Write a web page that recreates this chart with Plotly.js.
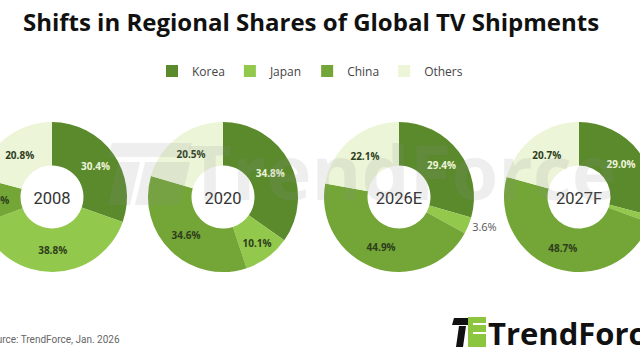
<!DOCTYPE html>
<html>
<head>
<meta charset="utf-8">
<script src="https://cdn.plot.ly/plotly-3.0.1.min.js"></script>
<style>
html,body{margin:0;padding:0;width:640px;height:360px;overflow:hidden;background:#fff;}
#chart{position:absolute;left:-100px;top:0;width:840px;height:360px;}
</style>
</head>
<body>
<div id="chart"></div>
<script>
// ---- data ----
const regions = ['Korea', 'Japan', 'China', 'Others'];
const years = ['2008', '2020', '2026E', '2027F'];
const korea  = [30.4, 34.8, 29.4, 29.0];
const japan  = [38.8, 10.1, 3.6, 1.6];
const china  = [10.0, 34.6, 44.9, 48.7];
const others = [20.8, 20.5, 22.1, 20.7];
const colors = ['#5a8a2c', '#92c84b', '#73a637', '#ecf5d7'];

// ---- layout helpers (positions, not data) ----
const W = 840, H = 360, OFFSET = 100;
const centersX = [52, 223, 399, 579];   // page px
const centerY = 197, R = 75;
const px = x => (x + OFFSET) / W;
const py = y => 1 - y / H;

const traces = years.map((yr, i) => {
  const vals = [korea[i], japan[i], china[i], others[i]];
  const cx = px(centersX[i]);
  const cy = py(centerY);
  return {
    type: 'pie',
    name: yr,
    labels: regions,
    values: vals,
    sort: false,
    direction: 'clockwise',
    rotation: 0,
    hole: 0.42,
    domain: {x: [cx - R / W, cx + R / W], y: [cy - R / H, cy + R / H]},
    marker: {colors: colors, line: {width: 0}},
    texttemplate: '%{value:.1f}%',
    textinfo: 'text',
    textposition: vals.map(v => v < 5 ? 'outside' : 'inside'),
    insidetextorientation: 'horizontal',
    insidetextfont: {family: 'Open Sans, sans-serif', size: 10, weight: 'bold',
      color: ['#eef4dc', '#2e3d1c', '#2e3d1c', '#2e3d1c']},
    outsidetextfont: {family: 'Open Sans, sans-serif', size: 11, color: '#555555'},
    title: {text: yr, position: 'middle center',
      font: {family: 'Roboto, sans-serif', size: 16.5, color: '#333333'}},
    showlegend: i === 0,
    hoverinfo: 'label+value'
  };
});

const wm = 'rgba(140,140,140,0.15)';
const layout = {
  width: W, height: H,
  margin: {l: 0, r: 0, t: 0, b: 0},
  paper_bgcolor: '#ffffff',
  title: {
    text: '<b>Shifts in Regional Shares of Global TV Shipments</b>',
    x: px(311), xanchor: 'center',
    y: py(23), yanchor: 'middle', yref: 'container',
    font: {family: 'Open Sans, sans-serif', size: 24, color: '#111111'}
  },
  legend: {
    orientation: 'h',
    x: px(310), xanchor: 'center',
    y: py(71), yanchor: 'middle',
    font: {family: 'Open Sans, sans-serif', size: 12, color: '#444444'},
    traceorder: 'normal'
  },
  annotations: [
    {text: '<b>TrendForce</b>', xref: 'paper', yref: 'paper',
     x: px(402), y: py(170), xanchor: 'center', yanchor: 'middle',
     showarrow: false,
     font: {family: 'Open Sans, sans-serif', size: 76, color: wm}},
    {text: 'Source: TrendForce, Jan. 2026', xref: 'paper', yref: 'paper',
     x: px(-17), y: py(339), xanchor: 'left', yanchor: 'middle',
     showarrow: false,
     font: {family: 'Roboto, sans-serif', size: 10, color: '#666666'}},
    {text: '<b>TrendForce</b>', xref: 'paper', yref: 'paper',
     x: px(486), y: py(333), xanchor: 'left', yanchor: 'middle',
     showarrow: false,
     font: {family: 'Open Sans, sans-serif', size: 31, color: '#111111'}}
  ],
  shapes: [
    // watermark icon (decoration)
    {type: 'path', xref: 'paper', yref: 'paper', line: {width: 0}, fillcolor: wm,
     path: `M ${px(112)} ${py(143)} L ${px(192)} ${py(143)} L ${px(188)} ${py(157)} L ${px(108)} ${py(157)} Z`},
    {type: 'path', xref: 'paper', yref: 'paper', line: {width: 0}, fillcolor: wm,
     path: `M ${px(118)} ${py(162)} L ${px(140)} ${py(162)} L ${px(130)} ${py(205)} L ${px(108)} ${py(205)} Z`},
    {type: 'path', xref: 'paper', yref: 'paper', line: {width: 0}, fillcolor: wm,
     path: `M ${px(145)} ${py(162)} L ${px(190)} ${py(162)} L ${px(180)} ${py(205)} L ${px(135)} ${py(205)} Z`},
    // logo icon (decoration)
    {type: 'path', xref: 'paper', yref: 'paper', line: {width: 0}, fillcolor: '#111111',
     path: `M ${px(454)} ${py(318)} L ${px(478)} ${py(318)} L ${px(476)} ${py(325)} L ${px(452)} ${py(325)} Z`},
    {type: 'path', xref: 'paper', yref: 'paper', line: {width: 0}, fillcolor: '#111111',
     path: `M ${px(459)} ${py(326)} L ${px(466)} ${py(326)} L ${px(463)} ${py(347)} L ${px(456)} ${py(347)} Z`},
    {type: 'rect', xref: 'paper', yref: 'paper', line: {width: 0}, fillcolor: '#8cc63f',
     x0: px(468), x1: px(486), y0: py(347), y1: py(317)},
    {type: 'rect', xref: 'paper', yref: 'paper', line: {width: 0}, fillcolor: '#ffffff',
     x0: px(473), x1: px(486), y0: py(325), y1: py(323)},
    {type: 'rect', xref: 'paper', yref: 'paper', line: {width: 0}, fillcolor: '#ffffff',
     x0: px(473), x1: px(486), y0: py(334), y1: py(332)}
  ]
};

Plotly.newPlot('chart', traces, layout, {displayModeBar: false, staticPlot: true});
</script>
</body>
</html>
